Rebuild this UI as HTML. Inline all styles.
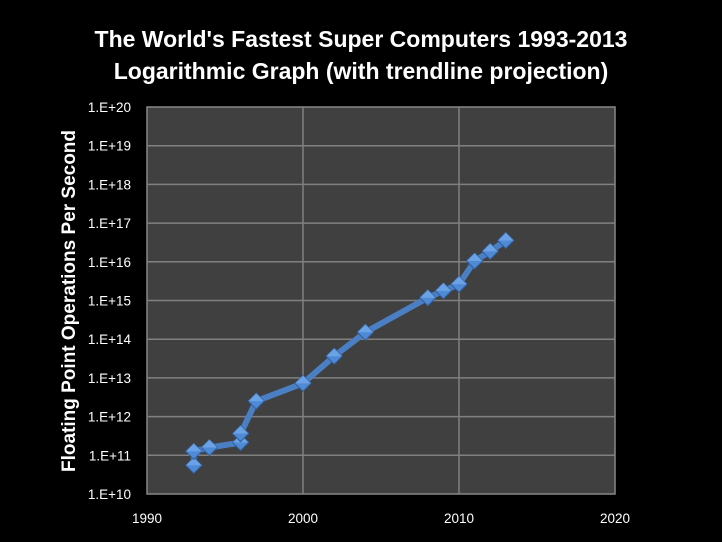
<!DOCTYPE html>
<html><head><meta charset="utf-8"><style>
body{margin:0;background:#000;}
svg{display:block;font-family:"Liberation Sans",Arial,sans-serif;}
</style></head><body>
<svg id="c" width="722" height="542" viewBox="0 0 722 542">
<rect width="722" height="542" fill="#000"/>
<text x="361" y="47" fill="#fff" font-size="23" font-weight="bold" text-anchor="middle">The World's Fastest Super Computers 1993-2013</text>
<text x="361" y="79" fill="#fff" font-size="23" font-weight="bold" text-anchor="middle">Logarithmic Graph (with trendline projection)</text>
<rect x="147" y="107" width="468" height="387" fill="#404040" stroke="#888" stroke-width="1.5"/>
<g id="grid"></g><g id="ticks"></g><g id="series"></g>
<text transform="translate(75,301) rotate(-90)" fill="#fff" font-size="19" font-weight="bold" text-anchor="middle">Floating Point Operations Per Second</text>
</svg>
<script>
const years=[1993,1993,1994,1996,1996,1997,2000,2002,2004,2008,2009,2010,2011,2012,2013];
const logFlops=[10.74,11.1,11.2,11.33,11.56,12.4,12.86,13.56,14.18,15.07,15.25,15.42,16.02,16.27,16.55];
const xTicks=[1990,2000,2010,2020];
const yTicks=[10,11,12,13,14,15,16,17,18,19,20];
const NS="http://www.w3.org/2000/svg";
const X=v=>147+(v-1990)*(468/30);
const Y=v=>494-(v-10)*(387/10);
function mk(t,a,p){const e=document.createElementNS(NS,t);for(const k in a)e.setAttribute(k,a[k]);p.appendChild(e);return e;}
const g=document.getElementById('grid'),tk=document.getElementById('ticks'),s=document.getElementById('series');
yTicks.forEach(v=>{
 if(v>10&&v<20){const l=mk('line',{x1:147,x2:615,y1:Y(v),y2:Y(v),stroke:'#808080','stroke-width':1.5},g);
 
 }
 const t=mk('text',{x:131,y:Y(v)+5,fill:'#fff','font-size':13.5,'text-anchor':'end'},tk);t.textContent='1.E+'+v;
 
 
});
xTicks.forEach(v=>{
 if(v>1990&&v<2020){const l=mk('line',{x1:X(v),x2:X(v),y1:107,y2:494,stroke:'#808080','stroke-width':1.5},g);
 
 }
 const t=mk('text',{x:X(v),y:523,fill:'#fff','font-size':13.5,'text-anchor':'middle'},tk);t.textContent=v;
 
 
});
const pts=years.map((y,i)=>X(y)+','+Y(logFlops[i])).join(' ');
const pl=mk('polyline',{points:pts,fill:'none',stroke:'#4a7fc4','stroke-width':6,'stroke-linejoin':'round'},s);


years.forEach((y,i)=>{
 const cx=X(y),cy=Y(logFlops[i]),r=8;
 const d=mk('polygon',{points:`${cx},${cy-r} ${cx+r},${cy} ${cx},${cy+r} ${cx-r},${cy}`,fill:'#4f8ad6',stroke:'#2f5f9f','stroke-width':1},s);
 
 
 const h=mk('polygon',{points:`${cx},${cy-r} ${cx+r},${cy} ${cx-r},${cy}`,fill:'#7fb2ef',opacity:0.6},s);
 
 
});
</script>
</body></html>
